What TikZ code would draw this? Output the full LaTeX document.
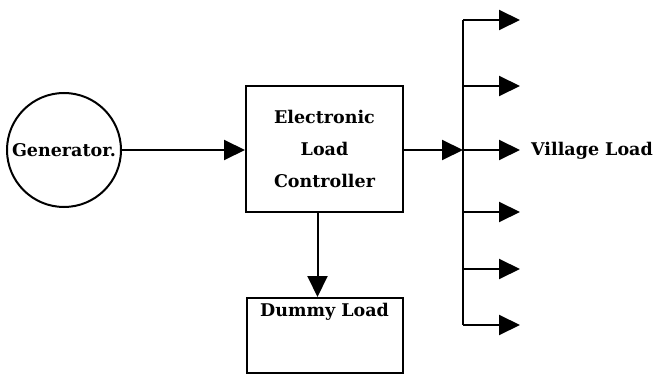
\documentclass[tikz,border=0pt]{standalone}
\usepackage{fontspec}
\setmainfont{DejaVu Serif}
\usetikzlibrary{arrows.meta}
\tikzset{
  blk/.style={draw, line width=2pt, inner sep=0pt, font=\fontsize{17.5}{32}\selectfont\bfseries},
  flow/.style={line width=2pt, -{Triangle[length=21pt,width=20pt]}}
}
\begin{document}
\begin{tikzpicture}[x=1pt,y=-1pt]
  \useasboundingbox (0,0) rectangle (656,382);
  \node[blk, circle, minimum size=114pt] (gen) at (64,150) {Generator.};
  \node[blk, minimum width=157pt, minimum height=126pt, align=center] (elc) at (324.5,149) {Electronic\\Load\\Controller};
  \node[blk, anchor=north, minimum width=156pt, inner ysep=5pt, text height=13pt, text depth=52pt] (dummy) at (324.5,297) {Dummy Load};
  \draw[flow] (gen.east) -- (gen.east -| elc.west);
  \draw[flow] ([xshift=-7pt]elc.south) -- ([xshift=-7pt]elc.south |- dummy.north);
  % bus with branches
  \foreach \i/\y in {1/20,2/86,3/150,4/212,5/269,6/325}{
    \coordinate (b\i) at (463,\y);
    \coordinate (t\i) at (520,\y);
    \draw[flow] (b\i) -- (t\i);
  }
  \draw[line width=2pt] (b1) -- (b6);
  \draw[flow] (elc.east |- b3) -- (b3);
  \node[anchor=base west, inner sep=0pt, font=\fontsize{17.5}{20}\selectfont\bfseries] (vload) at (531,156) {Village Load};
\end{tikzpicture}
\end{document}
